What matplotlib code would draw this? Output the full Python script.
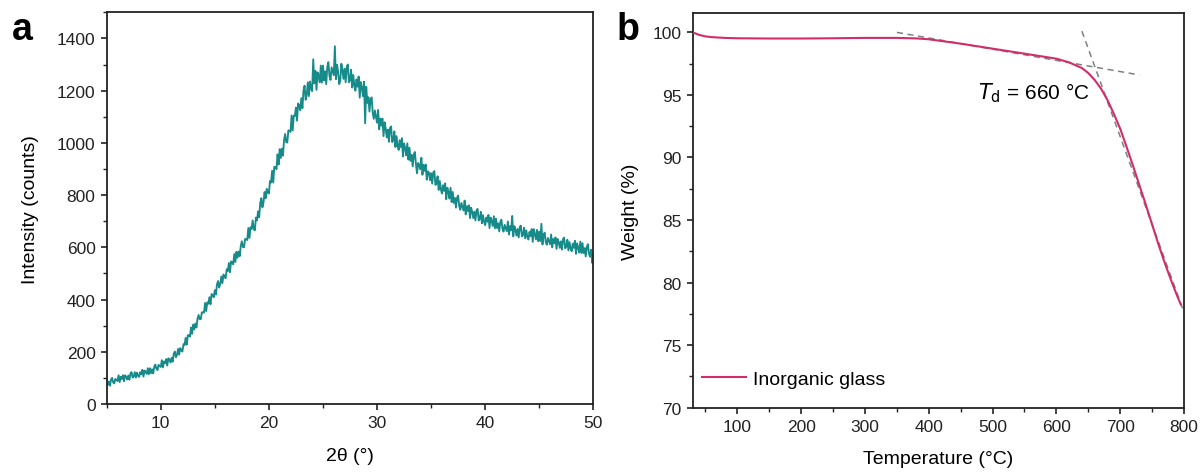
import matplotlib
matplotlib.use("Agg")
import matplotlib.pyplot as plt
from matplotlib.ticker import MultipleLocator
import numpy as np

plt.rcParams['font.family'] = ['Liberation Sans', 'DejaVu Sans']

# ---- Panel a: XRD (0.1 deg steps from 5 to 50) ----
xrd_start = 5.0
xrd_step = 0.1
xrd_counts = [
    91, 73, 86, 70, 93, 100, 83, 79, 96, 92,
    88, 110, 84, 104, 96, 110, 87, 110, 104, 94,
    109, 93, 117, 122, 101, 106, 122, 101, 120, 108,
    104, 122, 114, 131, 105, 128, 124, 115, 137, 114,
    137, 118, 133, 117, 143, 151, 134, 130, 150, 145,
    142, 168, 140, 163, 156, 172, 147, 175, 170, 159,
    177, 162, 192, 201, 179, 188, 211, 189, 214, 205,
    201, 229, 226, 253, 227, 263, 264, 258, 293, 269,
    304, 286, 308, 293, 327, 341, 325, 325, 351, 351,
    350, 387, 356, 389, 384, 409, 382, 421, 418, 409,
    436, 419, 458, 471, 446, 459, 488, 463, 496, 485,
    482, 516, 509, 540, 504, 546, 543, 535, 574, 544,
    583, 560, 584, 566, 606, 623, 601, 600, 632, 631,
    628, 674, 636, 677, 671, 703, 669, 665, 714, 703,
    738, 715, 770, 788, 753, 772, 812, 788, 824, 809,
    806, 854, 848, 893, 848, 908, 908, 899, 956, 917,
    976, 942, 978, 951, 1010, 1034, 1003, 1001, 1048, 1046,
    1042, 1105, 1048, 1104, 1103, 1135, 1085, 1151, 1144, 1125,
    1171, 1133, 1201, 1219, 1165, 1184, 1232, 1179, 1235, 1208,
    1198, 1320, 1228, 1276, 1203, 1270, 1257, 1232, 1296, 1231,
    1296, 1239, 1274, 1225, 1290, 1309, 1256, 1241, 1289, 1274,
    1259, 1370, 1244, 1299, 1273, 1225, 1237, 1303, 1280, 1245,
    1284, 1232, 1292, 1300, 1232, 1240, 1280, 1212, 1260, 1220,
    1200, 1243, 1215, 1254, 1173, 1233, 1212, 1179, 1234, 1075,
    1215, 1153, 1175, 1120, 1168, 1174, 1116, 1092, 1124, 1100,
    1077, 1126, 1052, 1093, 1066, 1093, 1026, 1079, 1055, 1021,
    1051, 1004, 1057, 1063, 1003, 1009, 1044, 984, 1026, 990,
    973, 1010, 984, 1018, 948, 998, 980, 952, 998, 936,
    981, 931, 954, 910, 956, 965, 918, 883, 923, 916,
    899, 943, 878, 916, 893, 917, 859, 891, 886, 857,
    884, 844, 887, 892, 839, 844, 872, 820, 854, 823,
    806, 838, 816, 845, 784, 828, 812, 787, 828, 773,
    812, 770, 789, 752, 790, 798, 758, 744, 770, 756,
    741, 779, 726, 758, 739, 761, 712, 752, 736, 712,
    736, 703, 742, 747, 703, 709, 736, 692, 723, 698,
    685, 714, 698, 724, 674, 714, 701, 682, 719, 673,
    710, 674, 692, 661, 697, 706, 671, 660, 686, 674,
    662, 699, 649, 681, 665, 720, 642, 681, 668, 645,
    670, 638, 678, 683, 642, 648, 675, 634, 665, 641,
    630, 659, 643, 670, 621, 670, 649, 630, 667, 623,
    660, 624, 690, 611, 647, 656, 621, 610, 636, 624,
    612, 649, 600, 632, 616, 638, 594, 632, 620, 598,
    623, 591, 631, 637, 596, 602, 629, 588, 620, 596,
    585, 614, 598, 625, 575, 615, 599, 580, 622, 578,
    616, 578, 597, 565, 602, 612, 576, 564, 591, 540,
    572,
]

# ---- Panel b: TGA ----
tga_temp = [30, 40, 50, 60, 80, 100, 150, 200, 250, 300, 350, 380, 400, 450,
            500, 550, 600, 620, 640, 650, 660, 670, 680, 690, 700, 710, 720,
            730, 740, 750, 760, 770, 780, 790, 795]
tga_weight = [100.0, 99.8, 99.68, 99.62, 99.56, 99.53, 99.51, 99.51, 99.53,
              99.56, 99.56, 99.52, 99.45, 99.1, 98.7, 98.3, 97.9, 97.6, 97.15,
              96.75, 96.2, 95.5, 94.6, 93.5, 92.3, 90.85, 89.35, 87.8, 86.25,
              84.65, 83.05, 81.55, 80.15, 78.85, 78.25]
tangent1_temp = [350, 730]
tangent1_weight = [100.0, 96.6]
tangent2_temp = [640, 798]
tangent2_weight = [100.1, 77.9]
td_label = "$T_{\\mathrm{d}}$ = 660 \u00b0C"

teal = "#178a8a"
pink = "#d12d6b"

W, H = 1201, 477
fig = plt.figure(figsize=(W / 100, H / 100), dpi=100)
axa = fig.add_axes([106.7 / W, 1 - 405 / H, (593.3 - 106.7) / W, (405 - 13.3) / H])
axb = fig.add_axes([692.7 / W, 1 - 408.7 / H, (1184 - 692.7) / W, (408.7 - 14) / H])

xrd_x = xrd_start + xrd_step * np.arange(len(xrd_counts))
axa.plot(xrd_x, xrd_counts, color=teal, lw=1.35)
axa.set_xlim(5, 50)
axa.set_ylim(0, 1500)
axa.xaxis.set_minor_locator(MultipleLocator(5))
axa.set_xticks([10, 20, 30, 40, 50])
axa.yaxis.set_minor_locator(MultipleLocator(100))
axa.set_yticks([0, 200, 400, 600, 800, 1000, 1200, 1400])
axa.set_xlabel("2\u03b8 (\u00b0)", fontsize=14, labelpad=12)
axa.set_ylabel("Intensity (counts)", fontsize=14, labelpad=13)

axb.plot(tga_temp, tga_weight, color=pink, lw=1.5, label="Inorganic glass", zorder=3)
axb.plot(tangent1_temp, tangent1_weight, color="#808080", lw=1.1, ls=(0, (4, 3)), zorder=2)
axb.plot(tangent2_temp, tangent2_weight, color="#808080", lw=1.1, ls=(0, (4, 3)), zorder=2)
axb.text(477, 95.2, td_label, fontsize=15, va="center", ha="left")
axb.set_xlim(30, 800)
axb.set_ylim(70, 101.55)
axb.xaxis.set_minor_locator(MultipleLocator(50))
axb.set_xticks([100, 200, 300, 400, 500, 600, 700, 800])
axb.yaxis.set_minor_locator(MultipleLocator(2.5))
axb.set_yticks([70, 75, 80, 85, 90, 95, 100])
axb.set_xlabel("Temperature (\u00b0C)", fontsize=14, labelpad=12)
axb.set_ylabel("Weight (%)", fontsize=14, labelpad=10)
axb.legend(loc="center left", frameon=False, fontsize=14, handlelength=2.3,
           handletextpad=0.35, borderpad=0, borderaxespad=0,
           bbox_to_anchor=(9 / 491.3, (408.7 - 380) / 394.7))

for ax in (axa, axb):
    for s in ax.spines.values():
        s.set_linewidth(1.3)
        s.set_color("#222222")
    ax.tick_params(which="major", direction="out", length=4.5, width=1.2,
                   labelsize=12.5, top=False, right=False, pad=3.5, colors="#222222")
    ax.tick_params(which="minor", direction="out", length=2.8, width=1.0,
                   top=False, right=False, colors="#222222")

fig.text(11.7 / W, 1 - 40 / H, "a", fontsize=27, fontweight="bold", va="baseline")
fig.text(617 / W, 1 - 40 / H, "b", fontsize=27, fontweight="bold", va="baseline")

fig.savefig("out.png", dpi=100)
